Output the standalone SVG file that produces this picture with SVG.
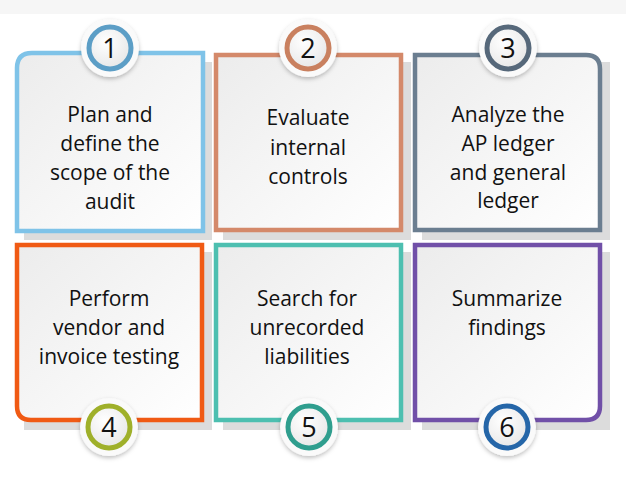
<svg xmlns="http://www.w3.org/2000/svg" width="626" height="480" viewBox="0 0 626 480">
<defs>
<linearGradient id="cf" x1="0" y1="0" x2="1" y2="1"><stop offset="0" stop-color="#ececec"/><stop offset="1" stop-color="#ffffff"/></linearGradient>
<radialGradient id="ci" cx="0.4" cy="0.35" r="0.7"><stop offset="0" stop-color="#ffffff"/><stop offset="1" stop-color="#e6e6e6"/></radialGradient>
<filter id="sh" x="-30%" y="-30%" width="160%" height="160%"><feDropShadow dx="0" dy="2" stdDeviation="2" flood-color="#000" flood-opacity="0.25"/></filter>
</defs>
<style>
.sd{fill:#dcdcdc}
.card{fill:url(#cf);stroke-width:4.5}
.outer{fill:#fafafa;filter:url(#sh)}
.ring{fill:url(#ci);stroke-width:5}
.t{font-family:"Open Sans","Lato",sans-serif;font-size:21px;fill:#111;text-anchor:middle}
.n{font-family:"Open Sans","Lato",sans-serif;font-size:27px;fill:#111;text-anchor:middle}
</style>
<rect width="626" height="480" fill="#fff"/>
<rect width="626" height="14" fill="#f6f6f6"/>
<g id="node1">
<rect class="sd" x="24" y="62" width="188" height="178"/>
<path class="card" stroke="#7fc3e8" d="M32,53 H203 V231 H17 V68 Q17,53 32,53 Z"/>
<circle class="outer" cx="110" cy="48" r="29"/>
<circle class="ring" stroke="#5c9ec6" cx="110" cy="48" r="21"/>
<text class="n" x="110" y="58">1</text>
<text class="t" x="110" y="122">Plan and</text>
<text class="t" x="110" y="151">define the</text>
<text class="t" x="110" y="180">scope of the</text>
<text class="t" x="110" y="209">audit</text>
</g>
<g id="node2">
<rect class="sd" x="223" y="62" width="188" height="178"/>
<path class="card" stroke="#d4896a" d="M216,55 H401 V230 H216 Z"/>
<circle class="outer" cx="308" cy="48" r="29"/>
<circle class="ring" stroke="#c9805f" cx="308" cy="48" r="21"/>
<text class="n" x="308" y="58">2</text>
<text class="t" x="308" y="125">Evaluate</text>
<text class="t" x="308" y="155">internal</text>
<text class="t" x="308" y="184">controls</text>
</g>
<g id="node3">
<rect class="sd" x="422" y="62" width="188" height="178"/>
<path class="card" stroke="#6b7e90" d="M415,55 H586 Q600,55 600,69 V230 H415 Z"/>
<circle class="outer" cx="508" cy="48" r="29"/>
<circle class="ring" stroke="#56687a" cx="508" cy="48" r="21"/>
<text class="n" x="508" y="58">3</text>
<text class="t" x="508" y="122">Analyze the</text>
<text class="t" x="508" y="151">AP ledger</text>
<text class="t" x="508" y="180">and general</text>
<text class="t" x="508" y="208">ledger</text>
</g>
<g id="node4">
<rect class="sd" x="24" y="252" width="188" height="178"/>
<path class="card" stroke="#f05a14" d="M17,245 H202 V420 H31 Q17,420 17,406 Z"/>
<circle class="outer" cx="109" cy="427" r="29"/>
<circle class="ring" stroke="#9fb02a" cx="109" cy="427" r="21"/>
<text class="n" x="109" y="437">4</text>
<text class="t" x="109" y="306">Perform</text>
<text class="t" x="109" y="335">vendor and</text>
<text class="t" x="109" y="364">invoice testing</text>
</g>
<g id="node5">
<rect class="sd" x="223" y="252" width="188" height="178"/>
<path class="card" stroke="#4dbfb0" d="M216,245 H401 V420 H216 Z"/>
<circle class="outer" cx="309" cy="427" r="29"/>
<circle class="ring" stroke="#2f9e8e" cx="309" cy="427" r="21"/>
<text class="n" x="309" y="437">5</text>
<text class="t" x="307" y="306">Search for</text>
<text class="t" x="307" y="335">unrecorded</text>
<text class="t" x="307" y="364">liabilities</text>
</g>
<g id="node6">
<rect class="sd" x="422" y="252" width="188" height="178"/>
<path class="card" stroke="#7150a8" d="M415,245 H600 V406 Q600,420 586,420 H415 Z"/>
<circle class="outer" cx="507" cy="427" r="29"/>
<circle class="ring" stroke="#2566a8" cx="507" cy="427" r="21"/>
<text class="n" x="507" y="437">6</text>
<text class="t" x="507" y="306">Summarize</text>
<text class="t" x="507" y="335">findings</text>
</g>
<g id="connectors"/>
</svg>
